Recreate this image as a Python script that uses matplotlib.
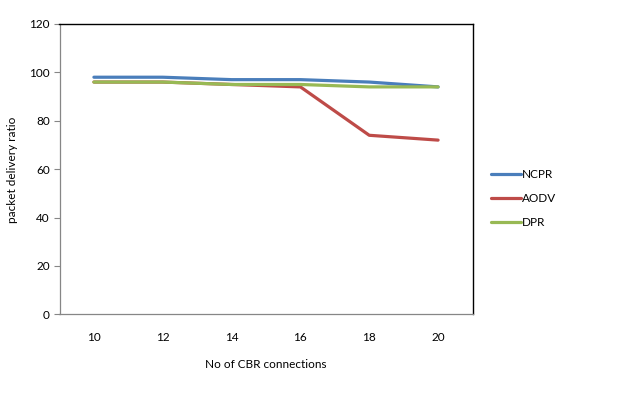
import numpy as np
import matplotlib
matplotlib.use('Agg')
import matplotlib.pyplot as plt

connections = ['10', '12', '14', '16', '18', '20']
ncpr = [98, 98, 97, 97, 96, 94]
aodv = [96, 96, 95, 94, 74, 72]
dpr = [96, 96, 95, 95, 94, 94]

series = [('NCPR', ncpr, '#4A7EBB'),
          ('AODV', aodv, '#BE4B48'),
          ('DPR', dpr, '#98B954')]

plt.rcParams['font.family'] = ['Lato', 'DejaVu Sans']

fig = plt.figure(figsize=(6.17, 4.07), dpi=100)
ax = fig.add_axes([59.5 / 617, (407 - 314.3) / 407, 413 / 617, 290.3 / 407])

x = np.arange(len(connections))
for name, vals, col in series:
    ax.plot(x, vals, color=col, linewidth=2.3, label=name, solid_capstyle='round')

ax.set_xlim(-0.5, len(connections) - 0.5)
ax.set_ylim(0, 120)
ax.set_yticks(range(0, 121, 20))
ax.set_xticks(x)
ax.set_xticklabels(connections)

for s in ['left', 'bottom']:
    ax.spines[s].set_color('#868686')
    ax.spines[s].set_linewidth(0.9)
for s in ['top', 'right']:
    ax.spines[s].set_color('black')
    ax.spines[s].set_linewidth(1.0)

ax.tick_params(axis='y', length=4, color='#868686', labelsize=8.5, pad=3)
ax.tick_params(axis='x', length=0, labelsize=8.5, pad=13)

ax.set_xlabel('No of CBR connections', fontsize=8.5, labelpad=11)
fig.text(12 / 617, 1 - 170 / 407, 'packet delivery ratio', rotation=90,
         fontsize=8.5, ha='center', va='center')

ax.legend(loc='center left', bbox_to_anchor=(1.02, 0.40), frameon=False,
          fontsize=8.5, handlelength=2.5, handletextpad=0.1,
          labelspacing=1.1)

fig.savefig('out.png', dpi=100)
